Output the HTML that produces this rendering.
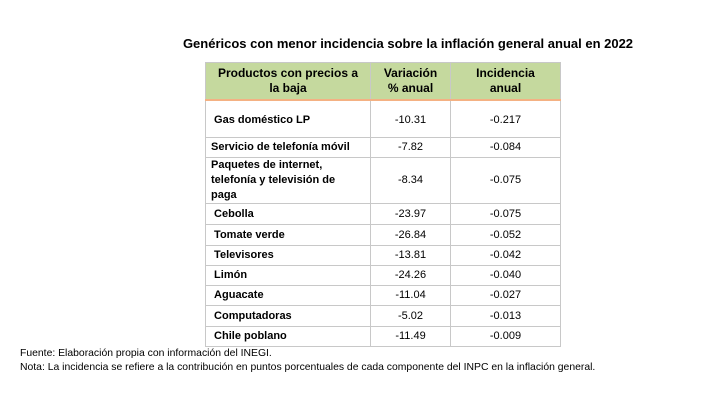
<!DOCTYPE html>
<html><head><meta charset="utf-8"><style>
body{margin:0;width:707px;height:409px;background:#fff;position:relative;overflow:hidden;font-family:"Liberation Sans",sans-serif;color:#000}
.a{position:absolute}
#title{left:160px;top:36px;width:496px;text-align:center;font-weight:bold;font-size:13px}
table{position:absolute;left:205px;top:62px;border-collapse:collapse;font-size:11px}
td,th{border:1px solid #c8c8c8;padding:0 5px;line-height:15px}
th{background:#c5d99e;font-weight:bold;font-size:12px;text-align:center;border-bottom:2px solid #f4b183;border-color:#c8c8c8 #c8c8c8 #f4b183}
td.n{text-align:center}
td.p{font-weight:bold}
.foot{left:20px;font-size:10.4px}
</style></head><body>
<div id="title" class="a">Genéricos con menor incidencia sobre la inflación general anual en 2022</div>
<table>
<tr style="height:37px">
<th style="width:154px">Productos con precios a<br>la baja</th>
<th style="width:69px">Variación<br>% anual</th>
<th style="width:99px">Incidencia<br>anual</th></tr>
<tr style="height:38px"><td class="p" style="padding-top:4px">&nbsp;Gas doméstico LP</td><td class="n" style="padding-top:4px">-10.31</td><td class="n" style="padding-top:4px">-0.217</td></tr>
<tr style="height:20px"><td class="p">Servicio de telefonía móvil</td><td class="n">-7.82</td><td class="n">-0.084</td></tr>
<tr style="height:46px"><td class="p">Paquetes de internet,<br>telefonía y televisión de<br>paga</td><td class="n">-8.34</td><td class="n">-0.075</td></tr>
<tr style="height:21px"><td class="p">&nbsp;Cebolla</td><td class="n">-23.97</td><td class="n">-0.075</td></tr>
<tr style="height:21px"><td class="p">&nbsp;Tomate verde</td><td class="n">-26.84</td><td class="n">-0.052</td></tr>
<tr style="height:20px"><td class="p">&nbsp;Televisores</td><td class="n">-13.81</td><td class="n">-0.042</td></tr>
<tr style="height:20px"><td class="p">&nbsp;Limón</td><td class="n">-24.26</td><td class="n">-0.040</td></tr>
<tr style="height:20px"><td class="p">&nbsp;Aguacate</td><td class="n">-11.04</td><td class="n">-0.027</td></tr>
<tr style="height:21px"><td class="p">&nbsp;Computadoras</td><td class="n">-5.02</td><td class="n">-0.013</td></tr>
<tr style="height:20px"><td class="p">&nbsp;Chile poblano</td><td class="n">-11.49</td><td class="n">-0.009</td></tr>
</table>
<div class="a foot" style="top:348px">Fuente: Elaboración propia con información del INEGI.</div>
<div class="a foot" style="top:362px">Nota: La incidencia se refiere a la contribución en puntos porcentuales de cada componente del INPC en la inflación general.</div>
</body></html>
